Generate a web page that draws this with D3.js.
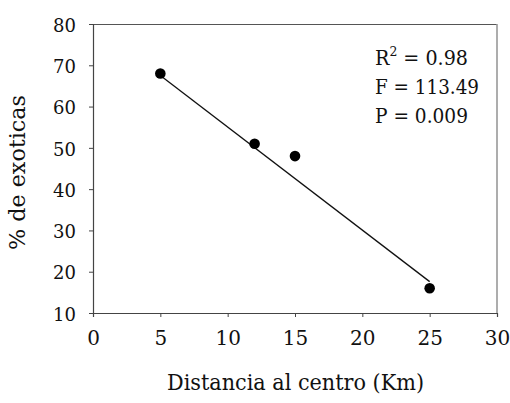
<!DOCTYPE html>
<html>
<head>
<meta charset="utf-8">
<script src="https://cdn.jsdelivr.net/npm/d3@7"></script>
<style>
  html, body { margin: 0; padding: 0; background: #fff; }
  svg { display: block; }
</style>
</head>
<body>
<svg id="chart" width="510" height="403"></svg>
<script>
// ---- data ----
const distances = [5, 12, 15, 25];          // km
const exoticPct = [68, 51, 48, 16];         // % de exoticas
const fitX = [5, 25];                       // regression line ends (x)
const fitY = [67.5, 17.6];                  // regression line ends (y)
const xTicks = [0, 5, 10, 15, 20, 25, 30];
const yTicks = [10, 20, 30, 40, 50, 60, 70, 80];
const statLines = [
  { label: "R", sup: "2", value: " = 0.98" },
  { label: "F", sup: "", value: " = 113.49" },
  { label: "P", sup: "", value: " = 0.009" }
];
const xTitle = "Distancia al centro (Km)";
const yTitle = "% de exoticas";

// ---- layout ----
const FONT = "DejaVu Serif";
const statWidths = [93, 104, 93];
const svg = d3.select("#chart");
const mLeft = 93, mRight = 497, mTop = 24, mBottom = 313;
const x = d3.scaleLinear().domain([0, 30]).range([mLeft, mRight]);
const y = d3.scaleLinear().domain([10, 80]).range([mBottom, mTop]);

// box (top and right)
svg.append("line").attr("x1", mLeft).attr("x2", mRight).attr("y1", mTop + 0.5).attr("y2", mTop + 0.5)
  .attr("stroke", "#555").attr("stroke-width", 1.2);
svg.append("line").attr("x1", mRight).attr("x2", mRight).attr("y1", mTop).attr("y2", mBottom)
  .attr("stroke", "#999").attr("stroke-width", 1.6);

// axes
const xAxis = d3.axisBottom(x).tickValues(xTicks).tickSize(4).tickPadding(14).tickFormat(d3.format("d"));
const gx = svg.append("g").attr("transform", `translate(0,${mBottom})`).call(xAxis);
gx.attr("font-family", FONT);
gx.select(".domain").attr("stroke", "#444").attr("stroke-width", 1.2);
gx.selectAll(".tick line").attr("stroke", "#444");
gx.selectAll(".tick text").attr("font-size", 20).attr("font-family", FONT).attr("fill", "#111")
  .attr("dy", "0.71em");

const yAxis = d3.axisLeft(y).tickValues(yTicks).tickSize(4).tickPadding(13).tickFormat(d3.format("d"));
const gy = svg.append("g").attr("transform", `translate(${mLeft},0)`).call(yAxis);
gy.attr("font-family", FONT);
gy.select(".domain").attr("stroke", "#444").attr("stroke-width", 1.2);
gy.selectAll(".tick line").attr("stroke", "#444");
gy.selectAll(".tick text").attr("font-size", 18).attr("font-family", FONT).attr("fill", "#111")
  .attr("dy", "0.4em");

// regression line
const fit = fitX.map((d, i) => [d, fitY[i]]);
svg.append("path").datum(fit)
  .attr("d", d3.line().x(d => x(d[0])).y(d => y(d[1])))
  .attr("stroke", "#111").attr("stroke-width", 1.3).attr("fill", "none");

// points
svg.selectAll("circle.pt").data(distances.map((d, i) => [d, exoticPct[i]]))
  .join("circle").attr("class", "pt")
  .attr("cx", d => x(d[0])).attr("cy", d => y(d[1])).attr("r", 5.3).attr("fill", "#000");

// stats text
statLines.forEach((s, i) => {
  const t = svg.append("text").attr("x", 375).attr("y", 65 + i * 29).attr("font-size", 20)
    .attr("font-family", FONT).attr("fill", "#111")
    .attr("textLength", statWidths[i]).attr("lengthAdjust", "spacingAndGlyphs");
  t.append("tspan").text(s.label);
  if (s.sup) t.append("tspan").attr("font-size", 13).attr("dy", -9).text(s.sup);
  t.append("tspan").attr("dy", s.sup ? 9 : 0).text(s.value);
});

// axis titles
svg.append("text").attr("x", (167 + 424) / 2).attr("y", 390).attr("text-anchor", "middle")
  .attr("font-family", FONT).attr("fill", "#111")
  .attr("font-size", 22).attr("textLength", 257).attr("lengthAdjust", "spacingAndGlyphs").text(xTitle);
svg.append("text").attr("transform", `translate(25,${(95 + 250) / 2}) rotate(-90)`)
  .attr("font-family", FONT).attr("fill", "#111")
  .attr("text-anchor", "middle").attr("font-size", 22)
  .attr("textLength", 155).attr("lengthAdjust", "spacingAndGlyphs").text(yTitle);
</script>
</body>
</html>
